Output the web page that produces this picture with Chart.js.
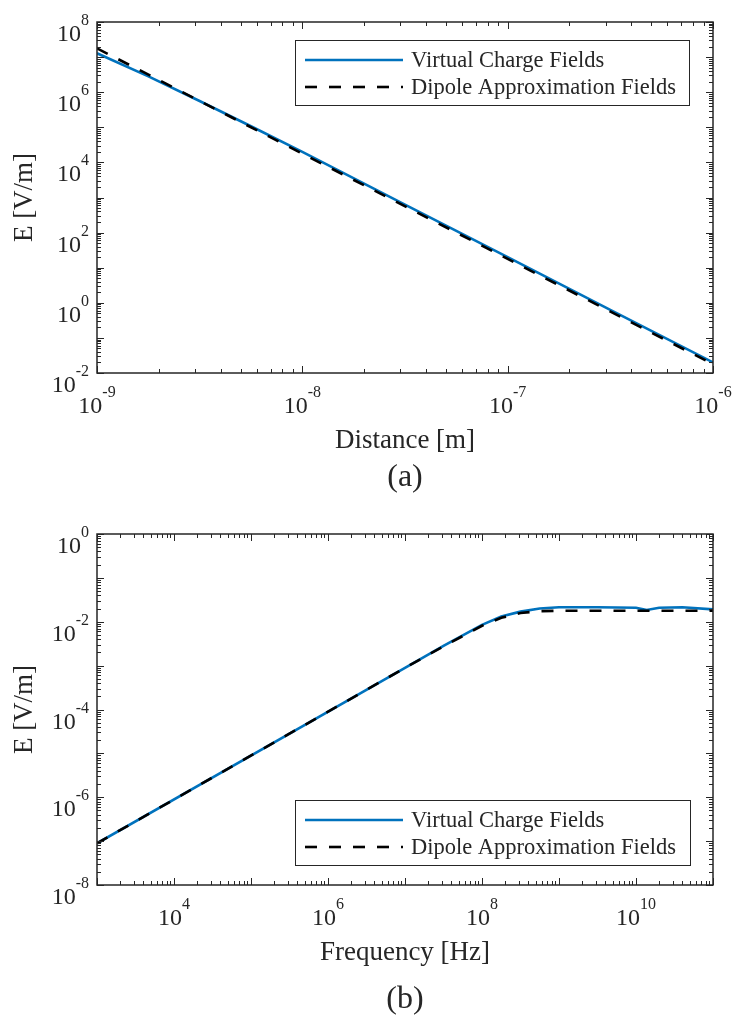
<!DOCTYPE html>
<html><head><meta charset="utf-8">
<script src="https://cdn.jsdelivr.net/npm/chart.js@4.4.1/dist/chart.umd.min.js"></script>
<style>
html,body{margin:0;padding:0;background:#fff;width:735px;height:1020px;overflow:hidden}
canvas{display:block}
</style></head><body>
<canvas id="ca" width="735" height="510"></canvas>
<canvas id="cb" width="735" height="510"></canvas>
<script>
// ---------- Panel (a): field vs distance ----------
const distanceVirtual = [1e-9, 1.78e-9, 3.16e-9, 5.62e-9, 1e-8, 3.16e-8, 1e-7, 3.16e-7, 1e-6];
const fieldVirtualA   = [1.29e7, 2.82e6, 5.62e5, 1.07e5, 2.0e4, 6.3e2, 20, 0.63, 0.020];
const distanceDipole  = [1e-9, 1e-8, 1e-7, 1e-6];
const fieldDipoleA    = [1.78e7, 1.78e4, 17.8, 0.0178];
const distanceTickExp = [-9, -8, -7, -6];
const fieldTickExpA   = [8, 6, 4, 2, 0, -2];

// ---------- Panel (b): field vs frequency ----------
const frequencyVirtual = [1e3, 1e7, 3.16e7, 1e8, 1.78e8, 3.16e8, 5.62e8, 1e9, 3.16e9, 1e10, 1.38e10, 2e10, 4e10, 1e11];
const fieldVirtualB    = [8.9e-8, 8.9e-4, 2.82e-3, 8.5e-3, 0.0132, 0.0170, 0.0200, 0.0214, 0.0214, 0.0209, 0.0186, 0.0209, 0.0214, 0.0191];
const frequencyDipole  = [1e3, 1e7, 3.16e7, 1e8, 1.78e8, 3.16e8, 5.62e8, 1e9, 1e11];
const fieldDipoleB     = [8.9e-8, 8.9e-4, 2.75e-3, 8.1e-3, 0.0123, 0.0158, 0.0174, 0.0178, 0.0178];
const frequencyTickExp = [4, 6, 8, 10];
const fieldTickExpB    = [0, -2, -4, -6, -8];

const seriesNames = ['Virtual Charge Fields', 'Dipole Approximation Fields'];
const BLUE = '#0072BD', BLACK = '#000000', INK = '#262626';
const SERIF = '"Liberation Serif","Times New Roman",serif';

function pts(xs, ys){ return xs.map((x,i)=>({x, y: ys[i]})); }

function logTicks(min, max){
  const out = [];
  const lo = Math.floor(Math.log10(min)), hi = Math.ceil(Math.log10(max));
  for (let e = lo; e <= hi; e++) for (let k = 1; k < 10; k++){
    const v = k * Math.pow(10, e);
    if (v >= min*0.999 && v <= max*1.001) out.push({v, major: k === 1});
  }
  return out;
}

function drawPow(ctx, exp, x, yBase, align){
  const base = '10', sup = String(exp);
  const bf = '24px ' + SERIF, sf = '16px ' + SERIF;
  ctx.font = bf; const wb = ctx.measureText(base).width;
  ctx.font = sf; const ws = ctx.measureText(sup).width;
  const total = wb + ws;
  const x0 = align === 'right' ? x - total : x - total/2;
  ctx.textAlign = 'left'; ctx.textBaseline = 'alphabetic';
  ctx.font = bf; ctx.fillText(base, x0, yBase);
  ctx.font = sf; ctx.fillText(sup, x0 + wb, yBase - 16);
}

function framePlugin(cfg){
  return {
    id: 'frame',
    afterDatasetsDraw(chart){
      const ctx = chart.ctx, a = chart.chartArea, xs = chart.scales.x, ys = chart.scales.y;
      ctx.save();
      ctx.fillStyle = INK; ctx.strokeStyle = INK;
      // ticks (inward, all four sides)
      ctx.lineWidth = 1;
      ctx.beginPath();
      logTicks(xs.min, xs.max).forEach(t => {
        const px = Math.round(xs.getPixelForValue(t.v)) + 0.5;
        const L = t.major ? 7 : 4;
        ctx.moveTo(px, a.bottom); ctx.lineTo(px, a.bottom - L);
        ctx.moveTo(px, a.top); ctx.lineTo(px, a.top + L);
      });
      logTicks(ys.min, ys.max).forEach(t => {
        const py = Math.round(ys.getPixelForValue(t.v)) + 0.5;
        const L = t.major ? 7 : 4;
        ctx.moveTo(a.left, py); ctx.lineTo(a.left + L, py);
        ctx.moveTo(a.right, py); ctx.lineTo(a.right - L, py);
      });
      ctx.stroke();
      // box
      ctx.lineWidth = 1.5;
      ctx.strokeRect(a.left, a.top, a.right - a.left, a.bottom - a.top);
      // tick labels
      cfg.xExp.forEach(e => drawPow(ctx, e, xs.getPixelForValue(Math.pow(10, e)), a.bottom + 40, 'center'));
      cfg.yExp.forEach(e => drawPow(ctx, e, 89, ys.getPixelForValue(Math.pow(10, e)) + 19, 'right'));
      // axis titles
      ctx.font = '27px ' + SERIF;
      ctx.textAlign = 'center'; ctx.textBaseline = 'alphabetic';
      ctx.fillText(cfg.xTitle, (a.left + a.right)/2, a.bottom + 75);
      ctx.save();
      ctx.translate(25, (a.top + a.bottom)/2);
      ctx.rotate(-Math.PI/2);
      ctx.textBaseline = 'middle';
      ctx.fillText(cfg.yTitle, 0, 0);
      ctx.restore();
      // caption
      ctx.font = '32px ' + SERIF;
      ctx.textBaseline = 'alphabetic';
      ctx.fillText(cfg.caption, (a.left + a.right)/2, cfg.captionY);
      // legend
      const L = cfg.legend;
      ctx.fillStyle = '#fff';
      ctx.fillRect(L.x, L.y, L.w, L.h);
      ctx.lineWidth = 1; ctx.strokeStyle = INK;
      ctx.strokeRect(L.x + 0.5, L.y + 0.5, L.w, L.h);
      const rows = [L.y + 20, L.y + 47];
      chart.data.datasets.slice().sort((p,q)=>p.legendIndex-q.legendIndex).forEach((ds, i) => {
        ctx.beginPath();
        ctx.strokeStyle = ds.borderColor; ctx.lineWidth = 2.6;
        ctx.setLineDash(ds.borderDash || []);
        ctx.moveTo(L.x + 10, rows[i]); ctx.lineTo(L.x + 108, rows[i]);
        ctx.stroke();
        ctx.setLineDash([]);
        ctx.fillStyle = INK;
        ctx.font = '22.5px ' + SERIF;
        ctx.textAlign = 'left'; ctx.textBaseline = 'middle';
        ctx.fillText(ds.label, L.x + 116, rows[i] + 1);
      });
      ctx.restore();
    }
  };
}

function makeChart(id, xv, yv, xd, yd, xr, yr, pad, cfg){
  return new Chart(document.getElementById(id), {
    type: 'line',
    data: { datasets: [
      { label: seriesNames[1], legendIndex: 1, data: pts(xd, yd), borderColor: BLACK, borderWidth: 2.6, borderDash: [12, 12], pointRadius: 0, tension: 0, fill: false },
      { label: seriesNames[0], legendIndex: 0, data: pts(xv, yv), borderColor: BLUE, borderWidth: 2.6, pointRadius: 0, tension: 0, fill: false }
    ]},
    options: {
      responsive: false, animation: false, devicePixelRatio: 1,
      layout: { padding: pad },
      plugins: { legend: { display: false }, tooltip: { enabled: false } },
      scales: {
        x: { type: 'logarithmic', min: xr[0], max: xr[1], display: false },
        y: { type: 'logarithmic', min: yr[0], max: yr[1], display: false }
      }
    },
    plugins: [framePlugin(cfg)]
  });
}

makeChart('ca', distanceVirtual, fieldVirtualA, distanceDipole, fieldDipoleA,
  [1e-9, 1e-6], [1e-2, 1e8],
  { left: 97, right: 22, top: 22, bottom: 137 },
  { xExp: distanceTickExp, yExp: fieldTickExpA, xTitle: 'Distance [m]', yTitle: 'E [V/m]',
    caption: '(a)', captionY: 486, legend: { x: 295, y: 40, w: 394, h: 65 } });

makeChart('cb', frequencyVirtual, fieldVirtualB, frequencyDipole, fieldDipoleB,
  [1e3, 1e11], [1e-8, 1],
  { left: 97, right: 22, top: 24, bottom: 135 },
  { xExp: frequencyTickExp, yExp: fieldTickExpB, xTitle: 'Frequency [Hz]', yTitle: 'E [V/m]',
    caption: '(b)', captionY: 498, legend: { x: 295, y: 290, w: 395, h: 65 } });
</script>
</body></html>
